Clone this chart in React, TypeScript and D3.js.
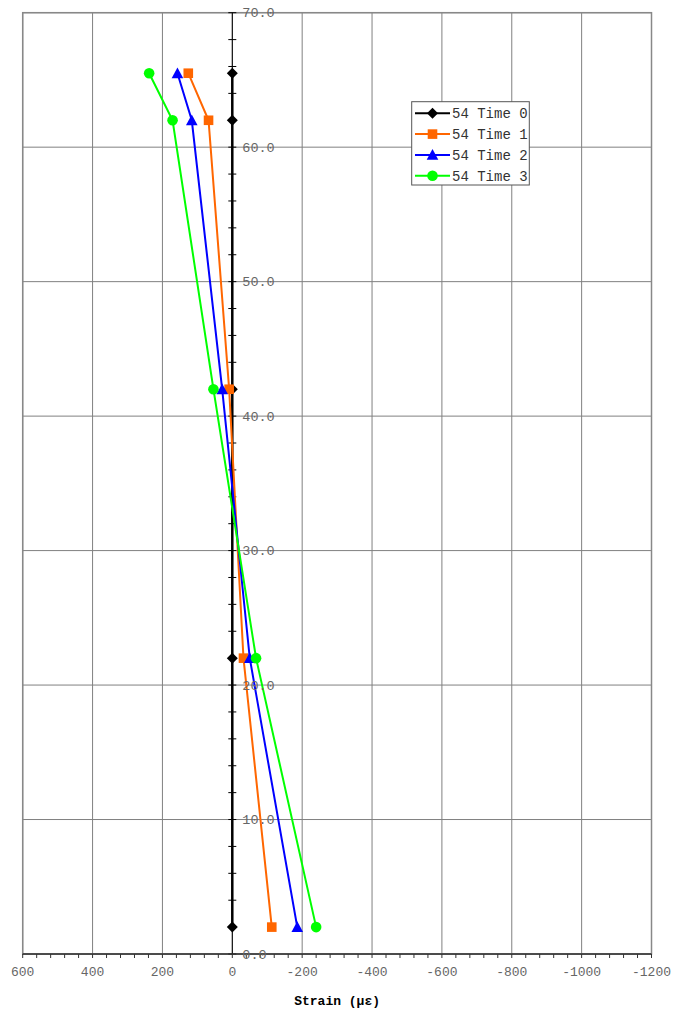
import React from "react";
import * as d3 from "d3";

const depths = [65.5, 62, 42, 22, 2];
const time0 = [0, 0, 0, 0, 0];
const time1 = [126, 68, 9, -32, -113];
const time2 = [157, 116, 29, -50, -186];
const time3 = [238, 171, 54, -68, -240];
const seriesNames = ["54 Time 0", "54 Time 1", "54 Time 2", "54 Time 3"];
const seriesColors = ["#000000", "#ff6600", "#0000ff", "#00ff00"];
const seriesShapes = ["diamond", "square", "triangle", "circle"];
const xTicks = [600, 400, 200, 0, -200, -400, -600, -800, -1000, -1200];
const yTicks = [0, 10, 20, 30, 40, 50, 60, 70];

const W = 677, H = 1013;
const L = 22.7, R = 651.5, T = 12.7, B = 954;
const FONT = "'Liberation Mono', 'DejaVu Sans Mono', monospace";

function Marker({ shape, x, y, color }: { shape: string; x: number; y: number; color: string }) {
  if (shape === "diamond") {
    const s = 5.5;
    return <path d={`M${x},${y - s}L${x + s},${y}L${x},${y + s}L${x - s},${y}Z`} fill={color} />;
  }
  if (shape === "square") {
    const s = 4.8;
    return <rect x={x - s} y={y - s} width={2 * s} height={2 * s} fill={color} />;
  }
  if (shape === "triangle") {
    const s = 5.8;
    return <path d={`M${x},${y - s}L${x + s},${y + s * 0.85}L${x - s},${y + s * 0.85}Z`} fill={color} />;
  }
  return <circle cx={x} cy={y} r={5.3} fill={color} />;
}

export default function App() {
  const x = d3.scaleLinear().domain([600, -1200]).range([L, R]);
  const y = d3.scaleLinear().domain([0, 70]).range([B, T]);
  const all = [time0, time1, time2, time3];
  const line = d3
    .line<[number, number]>()
    .x((d) => x(d[0]))
    .y((d) => y(d[1]));
  const minorX = d3.range(600, -1201, -40);
  const minorY = d3.range(0, 70.01, 2);
  const legX = 411.7, legY = 101.7, legW = 117.6, legH = 83.3;

  return (
    <svg width={W} height={H} style={{ position: "absolute", left: 0, top: 0, background: "#fff" }}>
      <rect x={0} y={0} width={W} height={H} fill="#fff" />
      {xTicks.map((t) => (
        <line key={"gx" + t} x1={x(t)} x2={x(t)} y1={T} y2={B} stroke="#808080" strokeWidth={1} />
      ))}
      {yTicks.map((t) => (
        <line key={"gy" + t} x1={L} x2={R} y1={y(t)} y2={y(t)} stroke="#808080" strokeWidth={1} />
      ))}
      <rect x={L} y={T} width={R - L} height={B - T} fill="none" stroke="#888" strokeWidth={1.5} />
      <line x1={x(0)} x2={x(0)} y1={T} y2={B} stroke="#000" strokeWidth={1} />
      {minorY.map((t) => (
        <line key={"my" + t} x1={x(0) - 4} x2={x(0) + 4} y1={y(t)} y2={y(t)} stroke="#000" strokeWidth={1} />
      ))}
      <line x1={L} x2={R} y1={B} y2={B} stroke="#333" strokeWidth={1.5} />
      {minorX.map((t) => (
        <line key={"mx" + t} x1={x(t)} x2={x(t)} y1={B} y2={B + 4} stroke="#333" strokeWidth={1} />
      ))}
      {all.map((vals, i) => {
        const pts = vals.map((v, j) => [v, depths[j]] as [number, number]);
        return (
          <g key={"s" + i}>
            <path d={line(pts) || ""} fill="none" stroke={seriesColors[i]} strokeWidth={i === 0 ? 2.5 : 2} />
            {pts.map((p, j) => (
              <Marker key={j} shape={seriesShapes[i]} x={x(p[0])} y={y(p[1])} color={seriesColors[i]} />
            ))}
          </g>
        );
      })}
      {yTicks.map((t) => (
        <text key={"yl" + t} x={x(0) + 10} y={y(t)} dy="0.35em" fontFamily={FONT} fontSize={13.5} fill="#666">
          {t.toFixed(1)}
        </text>
      ))}
      {xTicks.map((t) => (
        <text key={"xl" + t} x={x(t)} y={971} dy="0.35em" textAnchor="middle" fontFamily={FONT} fontSize={13} fill="#666">
          {t}
        </text>
      ))}
      <text x={(L + R) / 2} y={1000} dy="0.35em" textAnchor="middle" fontFamily={FONT} fontSize={13} fontWeight="bold" fill="#000">
        Strain (με)
      </text>
      <rect x={legX} y={legY} width={legW} height={legH} fill="#fff" stroke="#555" strokeWidth={1} />
      {seriesNames.map((n, i) => {
        const ly = 113.3 + i * 20.8;
        return (
          <g key={"lg" + i}>
            <line x1={415} x2={450} y1={ly} y2={ly} stroke={seriesColors[i]} strokeWidth={2} />
            <Marker shape={seriesShapes[i]} x={432.5} y={ly} color={seriesColors[i]} />
            <text x={452} y={ly} dy="0.35em" fontFamily={FONT} fontSize={14} fill="#333">
              {n}
            </text>
          </g>
        );
      })}
    </svg>
  );
}
